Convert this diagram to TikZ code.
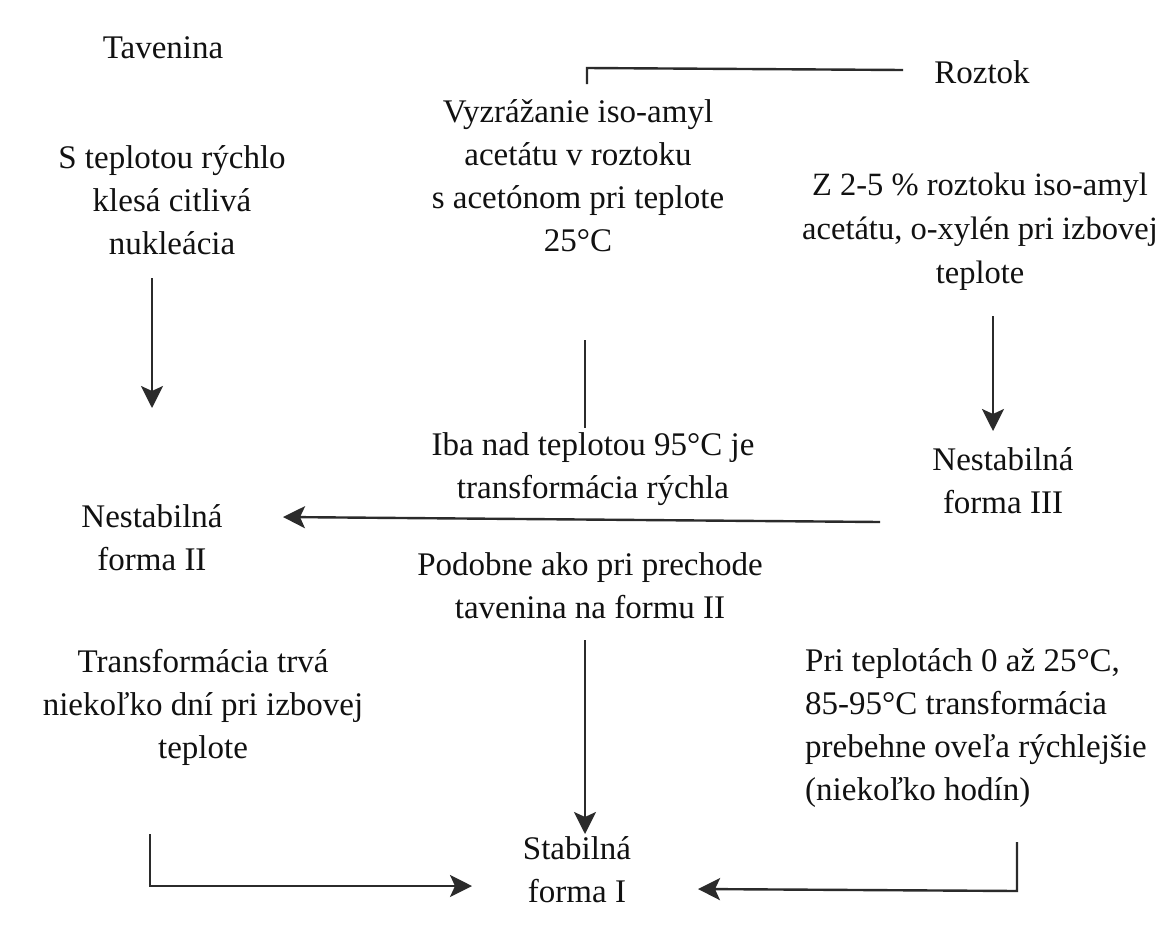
\documentclass[tikz,border=0pt]{standalone}
\usepackage{fontspec}
\setmainfont{Liberation Serif}
\usetikzlibrary{arrows.meta}
\definecolor{ink}{HTML}{111111}
\definecolor{wire}{HTML}{2B2B2B}
\tikzset{
  txt/.style={inner sep=0pt, align=center, text=ink, font=\fontsize{33}{43}\selectfont},
  txtl/.style={txt, align=left, anchor=west},
  conn/.style={draw=wire, line width=2.4pt},
  arr/.style={conn, -{Stealth[length=22pt, width=22pt, inset=5pt]}}
}
\begin{document}
\begin{tikzpicture}[x=1pt, y=-1pt]
\useasboundingbox[fill=white] (0,0) rectangle (1162,927);
% texts
\node[txt] (tav) at (163,48) {Tavenina};
\node[txt] (roz) at (982,72) {Roztok};
\node[txt] (vyz) at (578,176) {Vyzrážanie iso-amyl\\acetátu v roztoku\\s acetónom pri teplote\\25°C};
\node[txt] (ste) at (172,200) {S teplotou rýchlo\\klesá citlivá\\nukleácia};
\node[txt,font=\fontsize{32.5}{44}\selectfont] (z25) at (980,232) {Z 2-5 \% roztoku iso-amyl\\acetátu, o-xylén pri izbovej\\teplote};
\node[txt] (iba) at (593,469) {Iba nad teplotou 95°C je\\transformácia rýchla};
\node[txt] (f3) at (1003,481) {Nestabilná\\forma III};
\node[txt] (f2) at (152,538) {Nestabilná\\forma II};
\node[txt] (pod) at (590,586) {Podobne ako pri prechode\\tavenina na formu II};
\node[txt] (trv) at (203,707) {Transformácia trvá\\niekoľko dní pri izbovej\\teplote};
\node[txtl] (pri) at (805,728) {Pri teplotách 0 až 25°C,\\85-95°C transformácia\\prebehne oveľa rýchlejšie\\(niekoľko hodín)};
\node[txt] (f1) at (577,870) {Stabilná\\forma I};
% connector end points
\coordinate (rA) at (903,70);
\coordinate (rB) at (587,68);
\coordinate (rC) at (587,84);
\coordinate (lA) at (152,278);
\coordinate (lB) at (152,408);
\coordinate (mA) at (585,340);
\coordinate (mB) at (585,428);
\coordinate (qA) at (993,316);
\coordinate (qB) at (993,431);
\coordinate (hA) at (880,522);
\coordinate (hB) at (283,517);
\coordinate (cA) at (585,640);
\coordinate (cB) at (585,834);
\coordinate (bA) at (150,834);
\coordinate (bB) at (150,886);
\coordinate (bC) at (472,886);
\coordinate (dA) at (1017,842);
\coordinate (dB) at (1017,891);
\coordinate (dC) at (698,889);
% connectors
\draw[conn] (rA) -- (rB) -- (rC);
\draw[arr] (lA) -- (lB);
\draw[conn] (mA) -- (mB);
\draw[arr] (qA) -- (qB);
\draw[arr] (hA) -- (hB);
\draw[arr] (cA) -- (cB);
\draw[arr] (bA) -- (bB) -- (bC);
\draw[arr] (dA) -- (dB) -- (dC);
\end{tikzpicture}
\end{document}
